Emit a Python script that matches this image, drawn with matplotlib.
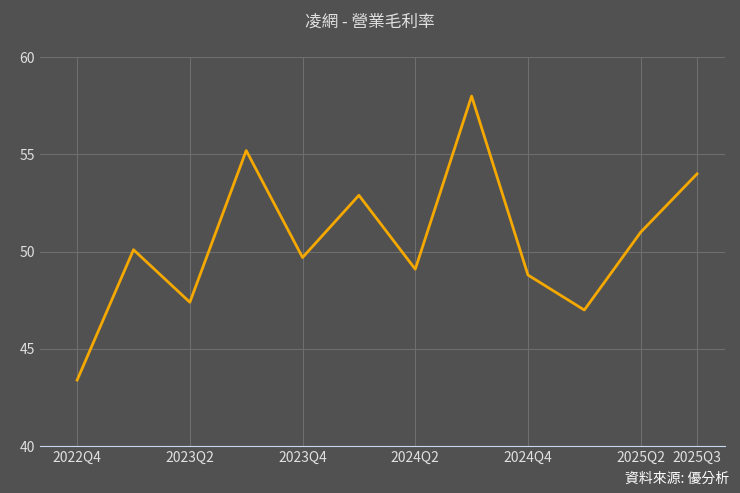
import matplotlib.pyplot as plt

plt.rcParams['font.family'] = ['Noto Sans CJK TC', 'DejaVu Sans']

quarters = ["2022Q4", "2023Q1", "2023Q2", "2023Q3", "2023Q4", "2024Q1", "2024Q2",
            "2024Q3", "2024Q4", "2025Q1", "2025Q2", "2025Q3"]
margin = [43.4, 50.1, 47.4, 55.2, 49.7, 52.9, 49.1, 58.0, 48.8, 47.0, 51.0, 54.0]
tick_idx = [0, 2, 4, 6, 8, 10, 11]

bg = "#515151"
fig = plt.figure(figsize=(7.4, 4.93), dpi=100, facecolor=bg)
ax = fig.add_axes([0.054, 0.095, 0.926, 0.789], facecolor=bg)

x = list(range(len(quarters)))
ax.plot(x, margin, color="#f5a900", linewidth=2)

ax.set_ylim(40, 60)
ax.set_yticks([40, 45, 50, 55, 60])
ax.set_xlim(-0.66, 11.5)
ax.set_xticks(tick_idx)
ax.set_xticklabels([quarters[i] for i in tick_idx])
ax.grid(True, color="#6e6e6e", linewidth=0.8)
ax.tick_params(colors="#e0e0e0", labelsize=10, length=0)
for s in ["top", "right", "left"]:
    ax.spines[s].set_visible(False)
ax.spines["bottom"].set_color("#c8d8f0")

fig.text(0.5, 0.955, "凌網 - 營業毛利率", ha="center", va="center", color="#e0e0e0", fontsize=12)
fig.text(0.985, 0.015, "資料來源: 優分析", ha="right", va="bottom", color="white", fontsize=10)

fig.savefig("out.png", facecolor=bg)
